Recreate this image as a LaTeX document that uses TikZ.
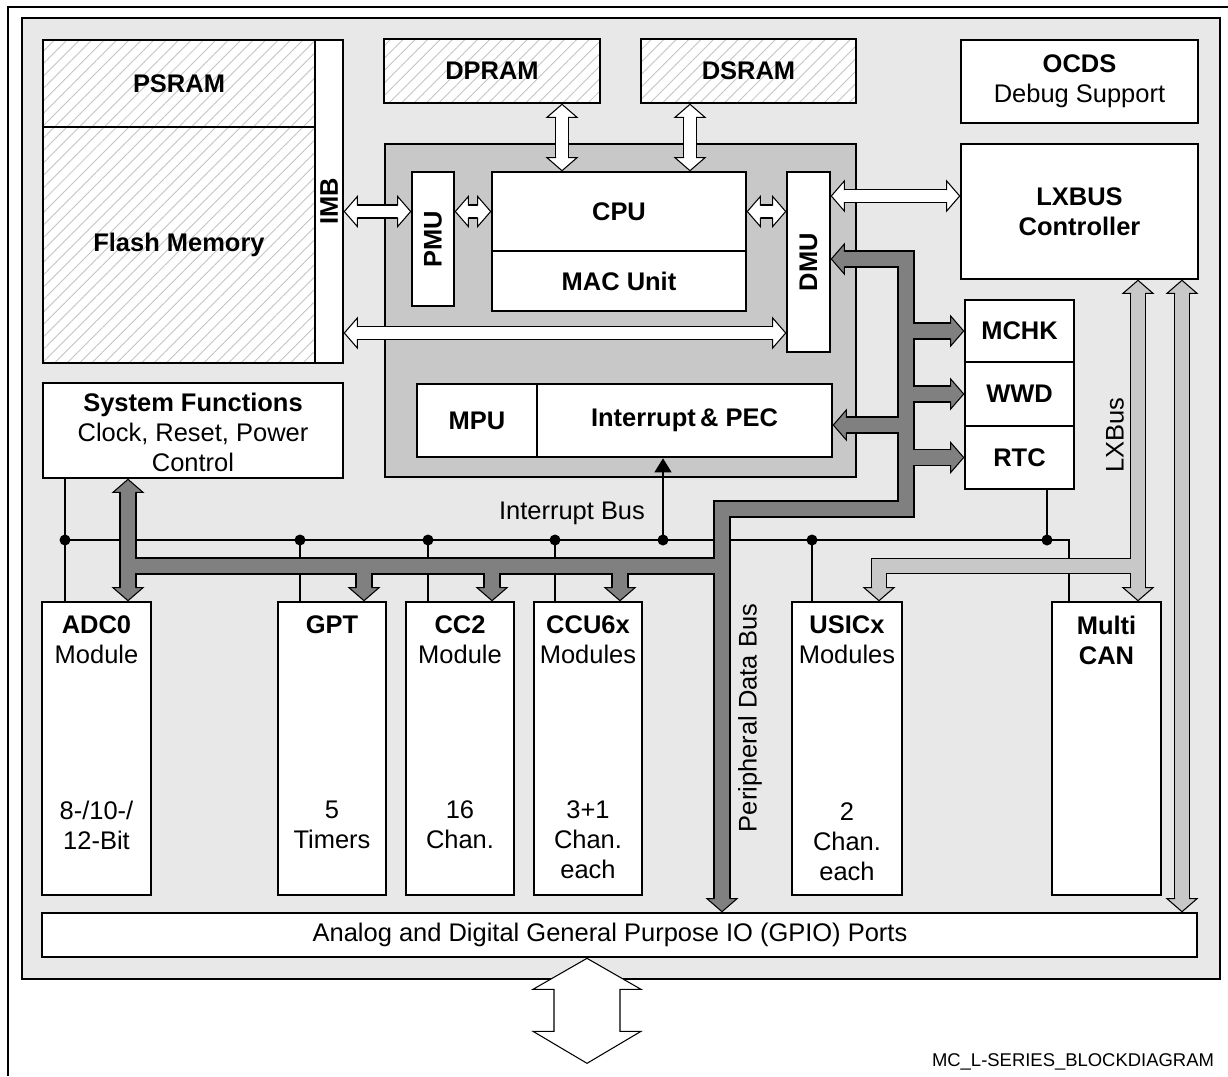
\documentclass[tikz,border=0pt]{standalone}
\usepackage{fontspec}
\setmainfont{Liberation Sans}
\usetikzlibrary{fit,arrows.meta,patterns.meta}

\definecolor{chipgray}{HTML}{E8E8E8}
\definecolor{coregray}{HTML}{C8C8C8}
\definecolor{pdbgray}{HTML}{808080}
\definecolor{lxbgray}{HTML}{C8C8C8}
\definecolor{hatchgray}{HTML}{C4C4C4}

\tikzset{
  pics/bushead/.style 2 args={code={
    \fill[#1] (0,0) -- (-13,15) -- (-13,-15) -- cycle;
    \draw[line width=0.6pt] (-13,#2) -- (-13,15) -- (0,0) -- (-13,-15) -- (-13,-#2);
  }}
}

\begin{document}
\begin{tikzpicture}[x=0.02cm, y=-0.02cm,
    font=\fontsize{14.5}{17}\selectfont,
    blk/.style={draw, line width=1.5pt, fill=white, inner sep=0pt},
    mem/.style={draw, line width=1.5pt, inner sep=0pt, preaction={fill=white},
      pattern={Lines[angle=45,distance=5pt,line width=0.5pt]}, pattern color=hatchgray},
    bf/.style={font=\fontsize{14.5}{17}\selectfont\bfseries},
    lbl/.style={inner sep=0pt, align=center},
    irq/.style={line width=0.6pt},
    wout/.style={line width=8pt, draw=black},
    win/.style={line width=6.8pt, draw=white},
    pdout/.style={line width=9.7pt, line join=miter, draw=black},
    pdin/.style={line width=8.5pt, line join=miter, draw=pdbgray},
    lxout/.style={line width=9.1pt, line join=miter, draw=black},
    lxin/.style={line width=7.9pt, line join=miter, draw=lxbgray}]

\useasboundingbox (0,0) rectangle (1228,1076);

% frame and chip area
\draw[line width=1.1pt] (8,1076) |- (1228,7);
\node[fit={(22,18) (1220,979)}, draw, line width=1.5pt, fill=chipgray, inner sep=0pt] (chip) {};

% memories
\node[mem, fit={(43,40) (315,127)}] (psram) {};
\node[mem, fit={(43,127) (315,363)}] (flash) {};
\node[blk, fit={(315,40) (343,363)}] (imb) {};
\node[mem, fit={(384,39) (600,103)}] (dpram) {};
\node[mem, fit={(641,39) (856,103)}] (dsram) {};
\node[blk, fit={(961,40) (1198,123)}] (ocds) {};
\node[blk, fit={(961,144) (1198,279)}] (lxbus) {};
\node[lbl, bf] (psramtxt) at (psram) {PSRAM};
\node[lbl, bf] (flashtxt) at (flash) {Flash Memory};
\node[lbl, bf, rotate=90] (imbtxt) at (imb) {IMB};
\node[lbl, bf] (dpramtxt) at (dpram) {DPRAM};
\node[lbl, bf] (dsramtxt) at (dsram) {DSRAM};
\node[lbl] (ocdstxt) at (ocds) {\textbf{OCDS}\\Debug Support};
\node[lbl, bf] (lxbustxt) at (lxbus) {LXBUS\\Controller};

% core
\node[fit={(385,144) (856,477)}, draw, line width=1.5pt, fill=coregray, inner sep=0pt] (core) {};
\node[blk, fit={(412,172) (454,306)}] (pmu) {};
\node[blk, fit={(492,172) (746,251)}] (cpu) {};
\node[blk, fit={(492,251) (746,311)}] (mac) {};
\node[blk, fit={(787,172) (830,352)}] (dmu) {};
\node[blk, fit={(417,384) (537,457)}] (mpu) {};
\node[blk, fit={(537,384) (832,457)}] (ipec) {};
\node[lbl, bf, rotate=90] (pmutxt) at (pmu) {PMU};
\node[lbl, bf] (cputxt) at (cpu) {CPU};
\node[lbl, bf] (mactxt) at (mac) {MAC Unit};
\node[lbl, bf, rotate=90] (dmutxt) at (dmu) {DMU};
\node[lbl, bf] (mputxt) at (mpu) {MPU};
\node[lbl, bf] (ipectxt) at (ipec) {Interrupt\,\& PEC};

% watchdog, check, clock
\node[blk, fit={(965,300) (1074,362)}] (mchk) {};
\node[blk, fit={(965,362) (1074,426)}] (wwd) {};
\node[blk, fit={(965,426) (1074,489)}] (rtc) {};
\node[blk, fit={(43,383) (343,478)}] (sysf) {};
\node[lbl, bf] (mchktxt) at (mchk) {MCHK};
\node[lbl, bf] (wwdtxt) at (wwd) {WWD};
\node[lbl, bf] (rtctxt) at (rtc) {RTC};
\node[lbl] (sysftxt) at ([yshift=-0.04cm]sysf.center) {\textbf{System Functions}\\Clock, Reset, Power\\Control};

% peripherals
\foreach \n/\xa/\xb in {adc/42/151, gpt/278/386, cc2/406/514, ccu/534/642, usic/792/902, mcan/1052/1161}
  \node[blk, fit={(\xa,602) (\xb,895)}] (\n) {};
\node[lbl] (adcT) at (adc.north |- 0,640) {\textbf{ADC0}\\Module};
\node[lbl] (adcB) at (adc.north |- 0,825) {8-/10-/\\12-Bit};
\node[lbl, bf] (gptT) at (gpt.north |- 0,625) {GPT};
\node[lbl] (gptB) at (gpt.north |- 0,825) {5\\Timers};
\node[lbl] (cc2T) at (cc2.north |- 0,640) {\textbf{CC2}\\Module};
\node[lbl] (cc2B) at (cc2.north |- 0,825) {16\\Chan.};
\node[lbl] (ccuT) at (ccu.north |- 0,640) {\textbf{CCU6x}\\Modules};
\node[lbl] (ccuB) at (ccu.north |- 0,840) {3+1\\Chan.\\each};
\node[lbl] (usicT) at (usic.north |- 0,640) {\textbf{USICx}\\Modules};
\node[lbl] (usicB) at (usic.north |- 0,842) {2\\Chan.\\each};
\node[lbl, bf] (mcanT) at (mcan.north |- 0,640) {Multi\\CAN};

\node[blk, fit={(42,913) (1197,957)}] (gpio) {};
\node[lbl] (gpiotxt) at (gpio.center -| 610,0) {Analog and Digital General Purpose IO (GPIO) Ports};

% interrupt bus
\draw[irq] (sysf.south -| 65,0) -- (adc.north -| 65,0);
\draw[irq] (65,540) -| (mcan.north -| 1069,0);
\foreach \n/\bx in {gpt/300, cc2/428, ccu/555, usic/812}
  \draw[irq] (\bx,540) -- (\n.north -| \bx,0);
\draw[irq] (1047,540) -- (rtc.south -| 1047,0);
\draw[irq, -{Triangle[length=0.28cm, width=0.34cm]}] (663,540) -- (ipec.south -| 663,0);
\foreach \bx in {65,300,428,555,663,812,1047}
  \fill (\bx,540) circle[radius=5.5];

% memory links
\coordinate (wa1) at (imb.east |- cpu.west);  \coordinate (wb1) at (pmu.west |- cpu.west);
\coordinate (wa2) at (pmu.east |- cpu.west);  \coordinate (wb2) at (cpu.west);
\coordinate (wa3) at (cpu.east);              \coordinate (wb3) at (dmu.west |- cpu.east);
\coordinate (wa4) at (imb.east |- 0,333);     \coordinate (wb4) at (dmu.west |- 0,333);
\coordinate (wa5) at (dmu.east |- 0,196);     \coordinate (wb5) at (lxbus.west |- 0,196);
\coordinate (wa6) at (dpram.south -| 562,0);  \coordinate (wb6) at (cpu.north -| 562,0);
\coordinate (wa7) at (dsram.south -| 690,0);  \coordinate (wb7) at (cpu.north -| 690,0);
\foreach \i/\ang in {1/0, 2/0, 3/0, 4/0, 5/0, 6/-90, 7/-90} {
  \draw[wout, shorten <=2mm, shorten >=2mm] (wa\i) -- (wb\i);
  \draw[win, shorten <=2mm, shorten >=2mm] (wa\i) -- (wb\i);
  \pic[rotate=\ang] at (wb\i) {bushead={white}{6}};
  \pic[rotate=\ang+180] at (wa\i) {bushead={white}{6}};
}

% peripheral data bus
\coordinate (pd0) at (dmu.east |- 0,259);
\coordinate (pd1) at (906,259);
\coordinate (pd2) at (906,509);
\coordinate (pd3) at (722,509);
\coordinate (pd4) at (gpio.north -| 722,0);
\coordinate (pd5) at (722,566);
\coordinate (pd6) at (128,566);
\coordinate (pd7) at (sysf.south -| 128,0);
\coordinate (pd8) at (adc.north -| 128,0);
\foreach \pass in {pdout, pdin} {
  \draw[\pass, shorten <=2mm, shorten >=2mm] (pd0) -- (pd1) -- (pd2) -- (pd3) -- (pd4);
  \draw[\pass] (pd5) -- (pd6);
  \draw[\pass, shorten <=2mm, shorten >=2mm] (pd7) -- (pd8);
  \foreach \n in {mchk, wwd, rtc}
    \draw[\pass, shorten >=2mm] (pd1 |- \n.west) -- (\n.west);
  \draw[\pass, shorten >=2mm] (pd1 |- 0,425) -- (ipec.east |- 0,425);
  \foreach \n/\bx in {gpt/364, cc2/492, ccu/620}
    \draw[\pass, shorten >=2mm] (\bx,566) -- (\n.north -| \bx,0);
}
\pic[rotate=180] at (pd0) {bushead={pdbgray}{7.5}};
\pic[rotate=-90] at (pd4) {bushead={pdbgray}{7.5}};
\pic[rotate=90] at (pd7) {bushead={pdbgray}{7.5}};
\pic[rotate=-90] at (pd8) {bushead={pdbgray}{7.5}};
\foreach \n in {mchk, wwd, rtc}
  \pic at (\n.west) {bushead={pdbgray}{7.5}};
\pic[rotate=180] at (ipec.east |- 0,425) {bushead={pdbgray}{7.5}};
\foreach \n/\bx in {gpt/364, cc2/492, ccu/620}
  \pic[rotate=-90] at (\n.north -| \bx,0) {bushead={pdbgray}{7.5}};

% LXBus
\coordinate (lx0) at (lxbus.south -| 1138,0);
\coordinate (lx1) at (mcan.north -| 1138,0);
\coordinate (lx2) at (1138,566);
\coordinate (lx3) at (usic.north -| 879,0);
\coordinate (lx4) at (lxbus.south -| 1182,0);
\coordinate (lx5) at (gpio.north -| 1182,0);
\foreach \pass in {lxout, lxin} {
  \draw[\pass, shorten <=2mm, shorten >=2mm] (lx0) -- (lx1);
  \draw[\pass, shorten >=2mm] (lx2) -| (lx3);
  \draw[\pass, shorten <=2mm, shorten >=2mm] (lx4) -- (lx5);
}
\foreach \c/\ang in {lx0/90, lx1/-90, lx3/-90, lx4/90, lx5/-90}
  \pic[rotate=\ang] at (\c) {bushead={lxbgray}{7}};

% bus names
\node[lbl] (irqlbl) at (572,513) {Interrupt Bus};
\node[lbl, rotate=90] (pdblbl) at (750,718) {Peripheral Data Bus};
\node[lbl, rotate=90] (lxblbl) at (1115,435) {LXBus};

% port arrow
\draw[line width=0.6pt, fill=white] (gpio.south -| 587,0) -- ++(54,31) -- ++(-21,0) -- ++(0,42)
  -- ++(21,0) -- ++(-54,32) -- ++(-54,-32) -- ++(21,0) -- ++(0,-42) -- ++(-21,0) -- cycle;

\node[lbl, font=\fontsize{10.5}{12}\selectfont] (figid) at (1073,1062) {MC\_L-SERIES\_BLOCKDIAGRAM};
\end{tikzpicture}
\end{document}
